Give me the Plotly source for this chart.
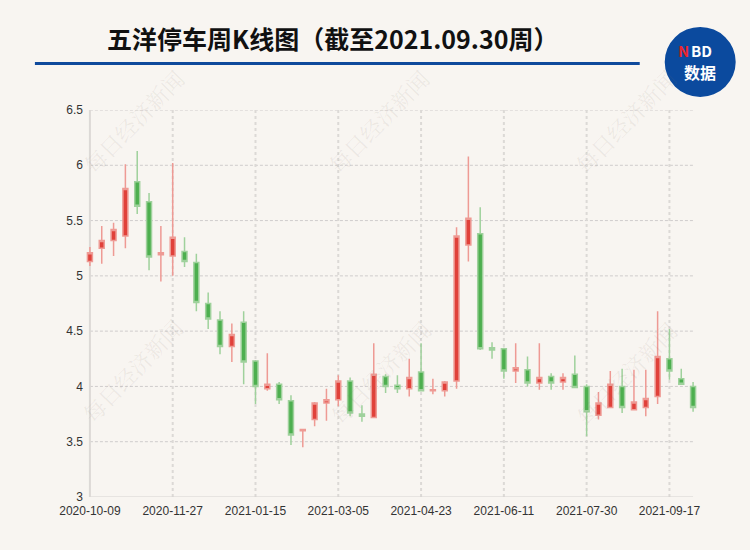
import plotly.graph_objects as go

dates = ["2020-10-09","2020-10-16","2020-10-23","2020-10-30","2020-11-06","2020-11-13","2020-11-20",
         "2020-11-27","2020-12-04","2020-12-11","2020-12-18","2020-12-25","2020-12-31","2021-01-08",
         "2021-01-15","2021-01-22","2021-01-29","2021-02-05","2021-02-10","2021-02-19","2021-02-26",
         "2021-03-05","2021-03-12","2021-03-19","2021-03-26","2021-04-02","2021-04-09","2021-04-16",
         "2021-04-23","2021-04-30","2021-05-07","2021-05-14","2021-05-21","2021-05-28","2021-06-04",
         "2021-06-11","2021-06-18","2021-06-25","2021-07-02","2021-07-09","2021-07-16","2021-07-23",
         "2021-07-30","2021-08-06","2021-08-13","2021-08-20","2021-08-27","2021-09-03","2021-09-10",
         "2021-09-17","2021-09-24","2021-09-30"]

open_ = [5.13,5.25,5.32,5.36,5.85,5.67,5.19,5.18,5.22,5.12,4.75,4.60,4.36,4.58,
         4.23,3.98,4.02,3.87,3.60,3.70,3.85,3.88,4.05,3.75,3.72,4.09,4.01,3.98,
         4.13,3.96,3.96,4.05,5.28,5.38,4.35,4.34,4.14,4.15,4.03,4.09,4.04,4.11,
         4.00,3.74,3.81,4.00,3.79,3.81,3.91,4.25,4.07,4.00]
close = [5.21,5.32,5.42,5.79,5.63,5.17,5.21,5.35,5.13,4.76,4.61,4.36,4.47,4.22,
         4.00,4.02,3.88,3.56,3.61,3.85,3.88,4.05,3.76,3.73,4.11,4.00,3.98,4.08,
         3.96,3.97,4.04,5.36,5.52,4.34,4.33,4.14,4.17,4.03,4.08,4.03,4.08,3.99,
         3.77,3.85,4.02,3.81,3.86,3.89,4.27,4.14,4.02,3.81]
high = [5.26,5.45,5.48,6.01,6.13,5.75,5.45,6.02,5.35,5.20,4.85,4.68,4.57,4.68,
        4.24,4.30,4.04,3.92,3.61,3.86,3.98,4.10,4.08,3.83,4.39,4.11,4.10,4.25,
        4.39,4.07,4.05,5.44,6.08,5.62,4.40,4.35,4.39,4.27,4.39,4.12,4.12,4.28,
        4.02,3.95,4.14,4.16,4.15,4.15,4.68,4.52,4.16,4.04]
low = [5.09,5.11,5.18,5.25,5.56,5.05,4.95,5.00,5.08,4.68,4.52,4.29,4.22,4.02,
       3.84,3.96,3.84,3.47,3.45,3.64,3.69,3.82,3.73,3.68,3.72,3.94,3.94,3.91,
       3.96,3.93,3.91,3.98,5.13,4.33,4.25,4.07,4.03,4.00,3.97,3.97,3.97,3.99,
       3.55,3.70,3.81,3.76,3.79,3.73,3.84,4.06,4.02,3.77]

y_ticks = [3, 3.5, 4, 4.5, 5, 5.5, 6, 6.5]
y_labels = ["3", "3.5", "4", "4.5", "5", "5.5", "6", "6.5"]
x_ticks = dates[::7]

title_text = "五洋停车周K线图（截至2021.09.30周）"
watermark = "每日经济新闻"

BG = "#f8f5f1"
W_PX, H_PX = 750, 550
L, R, T, B = 84.1, 50.7, 110, 53.3
PW = W_PX - L - R
PH = H_PX - T - B


def px(x):
    return (x - L) / PW


def py(y):
    return (H_PX - B - y) / PH


fig = go.Figure()
fig.add_trace(go.Candlestick(
    x=dates, open=open_, high=high, low=low, close=close,
    increasing=dict(line=dict(color="#ee9a94", width=1.5), fillcolor="#e0413a"),
    decreasing=dict(line=dict(color="#9fd19c", width=1.5), fillcolor="#4daf4f"),
    whiskerwidth=0, showlegend=False, hoverinfo="skip",
))

shapes = []
# horizontal grid lines
for v in y_ticks[1:]:
    shapes.append(dict(type="line", xref="x", yref="y", x0=dates[0], x1=dates[-1], y0=v, y1=v,
                       line=dict(color="#cfcccc", width=1, dash="3px,2px"), layer="below"))
# vertical grid lines
for d in x_ticks[1:]:
    shapes.append(dict(type="line", xref="x", yref="y", x0=d, x1=d, y0=y_ticks[0], y1=y_ticks[-1],
                       line=dict(color="#dcd9d6", width=2, dash="dot"), layer="below"))
# axis lines
shapes.append(dict(type="line", xref="x", yref="y", x0=dates[0], x1=dates[-1], y0=y_ticks[0], y1=y_ticks[0],
                   line=dict(color="#d6d3d0", width=1), layer="below"))
shapes.append(dict(type="line", xref="x", yref="y", x0=dates[0], x1=dates[0], y0=y_ticks[0], y1=y_ticks[-1],
                   line=dict(color="#dcd9d6", width=2), layer="below"))
# title underline
shapes.append(dict(type="line", xref="paper", yref="paper", x0=px(35), x1=px(640), y0=py(63.5), y1=py(63.5),
                   line=dict(color="#0f4a9c", width=3)))
# logo circle
shapes.append(dict(type="circle", xref="paper", yref="paper", x0=px(665), x1=px(736), y0=py(27), y1=py(97),
                   fillcolor="#0b4a9e", line=dict(width=0)))

annotations = [
    dict(text="<b>" + title_text + "</b>", x=px(333), y=py(38), xref="paper", yref="paper",
         showarrow=False, xanchor="center", yanchor="middle",
         font=dict(family="Noto Sans CJK SC", size=25, color="#111111")),
    dict(text="<b>N</b>", x=px(690), y=py(51), xref="paper", yref="paper",
         showarrow=False, xanchor="right", yanchor="middle", borderpad=0,
         font=dict(family="Noto Sans CJK SC", size=15, color="#e8262d")),
    dict(text="<b>BD</b>", x=px(690), y=py(51), xref="paper", yref="paper",
         showarrow=False, xanchor="left", yanchor="middle", borderpad=0,
         font=dict(family="Noto Sans CJK SC", size=15, color="#ffffff")),
    dict(text="<b>数据</b>", x=px(700), y=py(72), xref="paper", yref="paper",
         showarrow=False, xanchor="center", yanchor="middle", borderpad=0,
         font=dict(family="Noto Sans CJK SC", size=16, color="#ffffff")),
]
for cx, cy in [(133, 121), (378, 121), (625, 121), (132, 370), (380, 372), (626, 373)]:
    annotations.append(dict(text=watermark, x=px(cx), y=py(cy), xref="paper", yref="paper",
                            showarrow=False, textangle=-46, xanchor="center", yanchor="middle",
                            font=dict(family="Noto Serif CJK SC, Noto Sans CJK SC", size=22,
                                      color="rgba(120,110,100,0.10)")))

fig.update_layout(
    width=W_PX, height=H_PX,
    margin=dict(l=L, r=R, t=T, b=B, pad=0),
    paper_bgcolor=BG, plot_bgcolor=BG,
    boxgap=0.4,
    shapes=shapes, annotations=annotations,
    xaxis=dict(type="category", range=[-0.5, len(dates) - 0.5], rangeslider=dict(visible=False),
               showgrid=False, zeroline=False, showline=False,
               tickmode="array", tickvals=x_ticks, ticktext=x_ticks, ticks="",
               ticklabelstandoff=5,
               tickfont=dict(family="Liberation Sans", size=12, color="#333333")),
    yaxis=dict(range=[y_ticks[0], y_ticks[-1]], showgrid=False, zeroline=False, showline=False,
               tickmode="array", tickvals=y_ticks, ticktext=y_labels, ticks="",
               tickfont=dict(family="Liberation Sans", size=12, color="#333333")),
    hovermode=False,
)

fig.write_html("out.html", config={"displayModeBar": False},
               post_script="document.body.style.margin='0';document.body.style.background='" + BG + "';")
